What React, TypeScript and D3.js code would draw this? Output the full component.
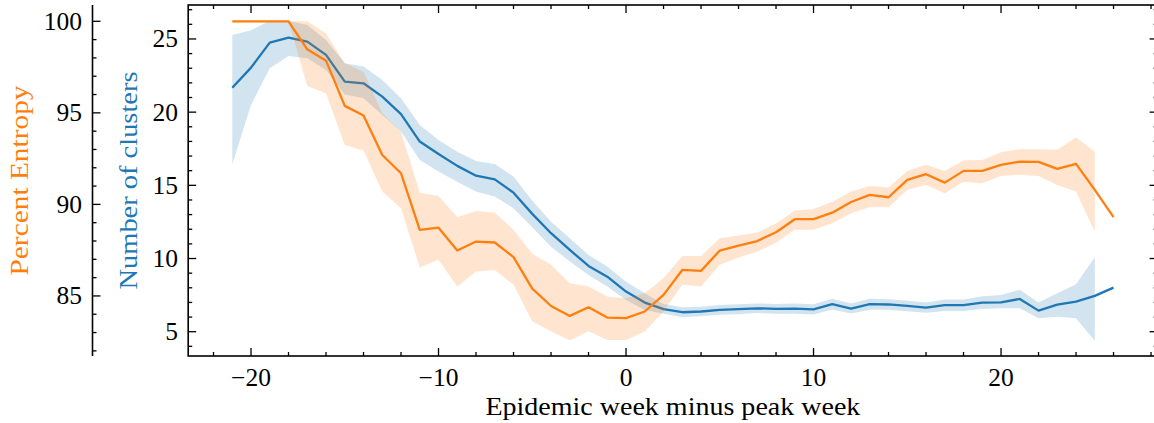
import React from "react";
import * as d3 from "d3";

const weeks = [-21,-20,-19,-18,-17,-16,-15,-14,-13,-12,-11,-10,-9,-8,-7,-6,-5,-4,-3,-2,-1,0,1,2,3,4,5,6,7,8,9,10,11,12,13,14,15,16,17,18,19,20,21,22,23,24,25,26];

const clustersMean = [21.67,23.04,24.75,25.09,24.82,23.91,22.08,21.97,21.06,19.86,17.99,17.14,16.33,15.66,15.41,14.5,13.05,11.73,10.59,9.49,8.76,7.74,6.99,6.54,6.33,6.38,6.49,6.54,6.6,6.56,6.58,6.52,6.89,6.58,6.88,6.86,6.76,6.65,6.81,6.81,6.99,7.0,7.24,6.44,6.85,7.06,7.45,8.01];
const clustersLow = [16.44,20.49,23.0,23.84,23.68,22.88,21.2,20.95,19.8,18.67,16.73,15.94,15.25,14.57,14.23,13.43,12.14,10.81,9.79,8.88,8.08,7.17,6.49,6.22,5.99,6.05,6.15,6.2,6.28,6.22,6.23,6.18,6.52,6.25,6.5,6.5,6.4,6.3,6.42,6.42,6.55,6.6,6.6,5.92,6.03,5.92,4.39,null];
const clustersHigh = [25.27,25.6,26.25,26.25,25.96,24.93,23.34,23.11,22.2,20.95,19.13,18.1,17.3,16.67,16.46,15.6,13.95,12.52,11.39,10.24,9.45,8.42,7.63,6.9,6.67,6.7,6.82,6.88,6.93,6.9,6.92,6.87,7.25,6.92,7.25,7.22,7.12,7.0,7.2,7.2,7.42,7.5,7.86,6.99,7.63,8.24,10.09,null];

const entropyMean = [100,100,100,100,98.47,97.85,95.38,94.85,92.7,91.7,88.61,88.73,87.48,87.97,87.92,87.12,85.4,84.45,83.91,84.38,83.82,83.79,84.15,85.06,86.42,86.37,87.48,87.75,88.0,88.48,89.19,89.2,89.55,90.13,90.52,90.39,91.34,91.65,91.19,91.83,91.83,92.16,92.34,92.32,91.94,92.21,90.79,89.3];
const entropyLow = [100,100,100,100,96.47,96.07,93.25,92.94,90.7,89.79,86.55,86.97,85.51,86.33,86.42,85.61,83.6,83.07,82.57,83.07,82.6,82.6,83.06,84.15,85.61,85.52,86.7,87.1,87.42,87.9,88.61,88.61,88.97,89.52,89.85,89.85,90.79,91.06,90.61,91.24,91.15,91.55,91.62,91.55,91.06,90.7,88.51,null];
const entropyHigh = [100,100,100,100,100.0,99.34,97.71,97.25,94.98,93.97,90.64,90.46,89.3,89.64,89.55,88.61,87.3,86.7,85.7,85.51,84.97,84.88,85.15,85.97,87.18,87.18,88.15,88.3,88.46,88.95,89.66,89.75,90.15,90.7,91.01,90.92,91.83,92.16,91.83,92.4,92.43,92.85,93.01,93.01,92.98,93.67,92.88,null];

const xTicksMajor = [-20, -10, 0, 10, 20];
const clusterTicks = [5, 10, 15, 20, 25];
const entropyTicks = [85, 90, 95, 100];

const BLUE = "#1f77b4";
const ORANGE = "#ff7f0e";
const FONT = "'Liberation Serif', 'Times New Roman', serif";

export default function App() {
  const W = 1154, H = 423;
  const left = 188.2, right = 1157.6, top = 5, bottom = 356;
  const x = d3.scaleLinear().domain([-23.35, 28.35]).range([left, right]);
  const yC = d3.scaleLinear().domain([3.34, 27.32]).range([bottom, top]);
  const yE = d3.scaleLinear().domain([81.72, 100.89]).range([bottom, top]);
  const axE = 92.5;
  const FS = 25.5;

  const idx = weeks.map((_, i) => i);
  const lineC = d3.line<number>().x(i => x(weeks[i])).y(i => yC(clustersMean[i]));
  const lineE = d3.line<number>().x(i => x(weeks[i])).y(i => yE(entropyMean[i]));
  const areaC = d3.area<number>().defined(i => clustersLow[i] != null)
    .x(i => x(weeks[i])).y0(i => yC(clustersLow[i] as number)).y1(i => yC(clustersHigh[i] as number));
  const areaE = d3.area<number>().defined(i => entropyLow[i] != null)
    .x(i => x(weeks[i])).y0(i => yE(entropyLow[i] as number)).y1(i => yE(entropyHigh[i] as number));

  const xMinor = d3.range(-22, 29, 2).filter(v => v % 10 !== 0);
  const cMinor = d3.range(4, 28, 1).filter(v => v % 5 !== 0);
  const eMinor = d3.range(82, 101, 1).filter(v => v % 5 !== 0);

  const tickStroke = { stroke: "#000", strokeWidth: 1.3 };

  return (
    <svg width={W} height={H} style={{ position: "absolute", left: 0, top: 0, background: "#fff" }} fontFamily={FONT}>
      <rect x={0} y={0} width={W} height={H} fill="#fff" />
      <defs>
        <clipPath id="plotclip">
          <rect x={left} y={top} width={right - left} height={bottom - top} />
        </clipPath>
      </defs>
      <g clipPath="url(#plotclip)">
        <path d={areaC(idx) || ""} fill={BLUE} fillOpacity={0.2} stroke="none" />
        <path d={lineC(idx) || ""} fill="none" stroke={BLUE} strokeWidth={2.3} strokeLinejoin="round" />
        <path d={areaE(idx) || ""} fill={ORANGE} fillOpacity={0.2} stroke="none" />
        <path d={lineE(idx) || ""} fill="none" stroke={ORANGE} strokeWidth={2.3} strokeLinejoin="round" />
      </g>

      {/* frame */}
      <rect x={left} y={top} width={right - left} height={bottom - top} fill="none" stroke="#000" strokeWidth={1.6} />

      {/* x ticks */}
      {xTicksMajor.map(v => (
        <g key={"xm" + v}>
          <line x1={x(v)} x2={x(v)} y1={bottom} y2={bottom - 8} {...tickStroke} />
          <line x1={x(v)} x2={x(v)} y1={top} y2={top + 8} {...tickStroke} />
          <text x={x(v)} y={386} textAnchor="middle" fontSize={FS} fill="#000">
            {v < 0 ? "\u2212" + Math.abs(v) : String(v)}
          </text>
        </g>
      ))}
      {xMinor.map(v => (
        <g key={"xn" + v}>
          <line x1={x(v)} x2={x(v)} y1={bottom} y2={bottom - 4} {...tickStroke} />
          <line x1={x(v)} x2={x(v)} y1={top} y2={top + 4} {...tickStroke} />
        </g>
      ))}

      {/* cluster axis ticks */}
      {clusterTicks.map(v => (
        <g key={"cm" + v}>
          <line x1={left} x2={left + 8} y1={yC(v)} y2={yC(v)} {...tickStroke} />
          <line x1={right} x2={right - 8} y1={yC(v)} y2={yC(v)} {...tickStroke} />
          <text x={178} y={yC(v) + 8.5} textAnchor="end" fontSize={FS} fill="#000">{v}</text>
        </g>
      ))}
      {cMinor.map(v => (
        <g key={"cn" + v}>
          <line x1={left} x2={left + 4} y1={yC(v)} y2={yC(v)} {...tickStroke} />
          <line x1={right} x2={right - 4} y1={yC(v)} y2={yC(v)} {...tickStroke} />
        </g>
      ))}

      {/* entropy axis */}
      <line x1={axE} x2={axE} y1={top} y2={bottom} stroke="#000" strokeWidth={1.6} />
      {entropyTicks.map(v => (
        <g key={"em" + v}>
          <line x1={axE} x2={axE + 8} y1={yE(v)} y2={yE(v)} {...tickStroke} />
          <text x={82} y={yE(v) + 8.5} textAnchor="end" fontSize={FS} fill="#000">{v}</text>
        </g>
      ))}
      {eMinor.map(v => (
        <line key={"en" + v} x1={axE} x2={axE + 4} y1={yE(v)} y2={yE(v)} {...tickStroke} />
      ))}

      {/* titles */}
      <text x={(left + right) / 2} y={415} textAnchor="middle" fontSize={FS} fill="#000"
        textLength={375} lengthAdjust="spacingAndGlyphs">Epidemic week minus peak week</text>
      <text transform={`translate(28,${(top + bottom) / 2}) rotate(-90)`} textAnchor="middle" fontSize={FS}
        fill={ORANGE} textLength={190} lengthAdjust="spacingAndGlyphs">Percent Entropy</text>
      <text transform={`translate(137,${(top + bottom) / 2}) rotate(-90)`} textAnchor="middle" fontSize={FS}
        fill={BLUE} textLength={218} lengthAdjust="spacingAndGlyphs">Number of clusters</text>
    </svg>
  );
}
